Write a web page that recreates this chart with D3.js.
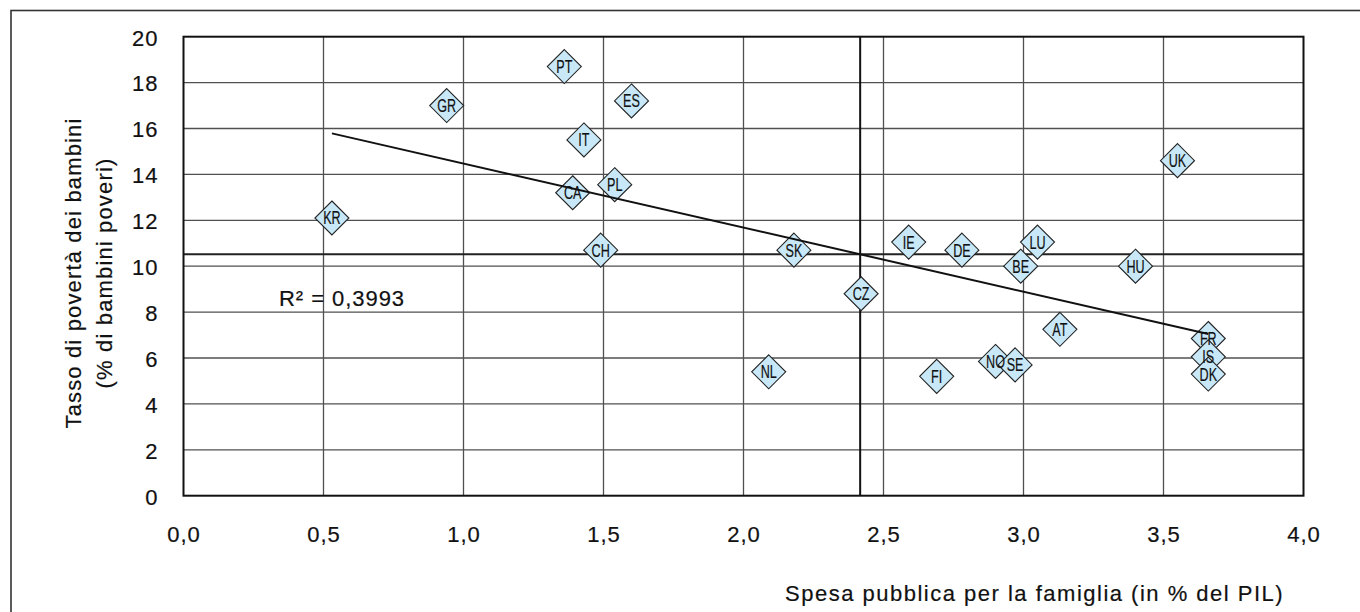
<!DOCTYPE html>
<html>
<head>
<meta charset="utf-8">
<script src="https://cdn.jsdelivr.net/npm/d3@7"></script>
<style>
  html, body { margin: 0; padding: 0; background: #fff; }
  svg { display: block; }
  text { font-family: "Liberation Sans", Arial, Helvetica, sans-serif; fill: #111; stroke: #111; stroke-width: 0.2px; }
</style>
</head>
<body>
<svg id="chart" width="1360" height="612"></svg>
<script>
// ---- data ----
const countries = ["KR","GR","PT","CA","IT","CH","PL","ES","NL","SK","CZ","IE","FI","DE","NO","SE","BE","LU","AT","HU","UK","FR","IS","DK"];
const spending  = [0.53,0.94,1.36,1.39,1.43,1.49,1.54,1.60,2.09,2.18,2.42,2.59,2.69,2.78,2.90,2.97,2.99,3.05,3.13,3.40,3.55,3.66,3.66,3.66];
const poverty   = [12.1,17.0,18.7,13.2,15.5,10.7,13.55,17.2,5.4,10.7,8.8,11.05,5.2,10.7,5.85,5.7,10.0,11.05,7.25,10.0,14.6,6.85,6.05,5.3];
const xTicks = [0,0.5,1,1.5,2,2.5,3,3.5,4];
const yTicks = [0,2,4,6,8,10,12,14,16,18,20];
const xTitle = "Spesa pubblica per la famiglia (in % del PIL)";
const yTitle = ["Tasso di povertà dei bambini", "(% di bambini poveri)"];
const r2Label = "R\u00B2 = 0,3993";

// ---- layout ----
const svg = d3.select("#chart");
const L = 183.5, R = 1303.5, T = 36.7, B = 495.7;
const x = d3.scaleLinear().domain([0,4]).range([L,R]);
const y = d3.scaleLinear().domain([0,20]).range([B,T]);
const fmt = d => d3.format(".1f")(d).replace(".", ",");

// outer frame
svg.append("rect").attr("x",11).attr("y",10.5).attr("width",1400).attr("height",700)
  .attr("fill","none").attr("stroke","#333").attr("stroke-width",1.6);

// grid
const g = svg.append("g");
g.selectAll("line.vx").data(xTicks.slice(1,-1)).join("line")
  .attr("x1",d=>x(d)).attr("x2",d=>x(d)).attr("y1",T).attr("y2",B)
  .attr("stroke","#505050").attr("stroke-width",1.3);
g.selectAll("line.hy").data(yTicks.slice(1,-1)).join("line")
  .attr("class","hy")
  .attr("x1",L).attr("x2",R).attr("y1",d=>y(d)).attr("y2",d=>y(d))
  .attr("stroke","#505050").attr("stroke-width",1.3);

// mean lines
const mx = d3.mean(spending), my = d3.mean(poverty);
svg.append("line").attr("x1",x(mx)).attr("x2",x(mx)).attr("y1",T).attr("y2",B)
  .attr("stroke","#111").attr("stroke-width",2);
svg.append("line").attr("x1",L).attr("x2",R).attr("y1",y(my)).attr("y2",y(my))
  .attr("stroke","#222").attr("stroke-width",2);

// plot border
svg.append("rect").attr("x",L).attr("y",T).attr("width",R-L).attr("height",B-T)
  .attr("fill","none").attr("stroke","#111").attr("stroke-width",2);

// axes labels via d3 axes (domain/ticks hidden, labels styled)
const xAxis = svg.append("g").attr("transform",`translate(0,${B})`)
  .call(d3.axisBottom(x).tickValues(xTicks).tickFormat(fmt).tickSize(0).tickPadding(0));
xAxis.select(".domain").remove();
xAxis.selectAll("text").attr("y",39).attr("dy","0.35em")
  .style("font-size","22px").style("letter-spacing","1px").style("font-family",null).attr("fill","#111");

const yAxis = svg.append("g").attr("transform",`translate(${L},0)`)
  .call(d3.axisLeft(y).tickValues(yTicks).tickFormat(d3.format("d")).tickSize(0).tickPadding(0));
yAxis.select(".domain").remove();
yAxis.selectAll("text").attr("x",-25).attr("dy","0.38em")
  .style("font-size","22px").style("letter-spacing","1px").style("font-family",null).attr("fill","#111");

// titles
svg.append("text").attr("x",785).attr("y",601).text(xTitle)
  .style("font-size","22px").style("letter-spacing","1.5px");
yTitle.forEach((t,i) => {
  svg.append("text")
    .attr("transform",`translate(${[81,112][i]},273) rotate(-90)`)
    .attr("text-anchor","middle").text(t)
    .style("font-size","22px").style("letter-spacing","1.15px");
});

// regression line (least squares)
const sxx = d3.sum(spending, v => (v-mx)*(v-mx));
const sxy = d3.sum(spending, (v,i) => (v-mx)*(poverty[i]-my));
const slope = sxy/sxx, icpt = my - slope*mx;
const [x0,x1] = d3.extent(spending);

// diamonds
const pts = countries.map((c,i)=>({c, xv:spending[i], yv:poverty[i]}));
const h = 17;
const pg = svg.append("g");
pg.selectAll("path").data(pts).join("path")
  .attr("d", d => `M${x(d.xv)},${y(d.yv)-h}L${x(d.xv)+h},${y(d.yv)}L${x(d.xv)},${y(d.yv)+h}L${x(d.xv)-h},${y(d.yv)}Z`)
  .attr("fill","#c8e8f8").attr("stroke","#222").attr("stroke-width",1.1);
pg.selectAll("text").data(pts).join("text")
  .attr("transform", d => `translate(${x(d.xv)},${y(d.yv)}) scale(0.7,1)`)
  .attr("text-anchor","middle").attr("dy","0.36em")
  .style("font-size","18px").style("stroke-width","0.2px").text(d=>d.c);

svg.append("line")
  .attr("x1",x(x0)).attr("y1",y(icpt+slope*x0))
  .attr("x2",x(x1)).attr("y2",y(icpt+slope*x1))
  .attr("stroke","#111").attr("stroke-width",2);

// R² label
svg.append("text").attr("x",279).attr("y",306).text(r2Label)
  .style("font-size","22px").style("letter-spacing","0.95px");
</script>
</body>
</html>
